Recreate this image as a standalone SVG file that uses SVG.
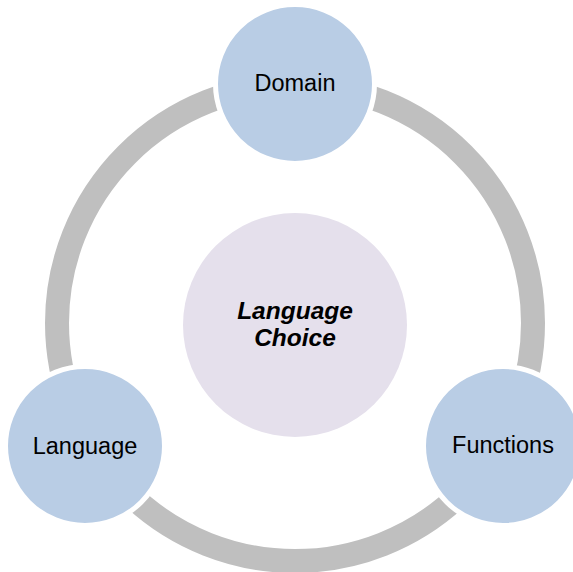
<svg xmlns="http://www.w3.org/2000/svg" width="573" height="572" viewBox="0 0 573 572">
<style>
.ring{fill:none;stroke:#bfbfbf;stroke-width:24}
.node{fill:#b9cde5;stroke:#ffffff;stroke-width:5}
.hub{fill:#e5e0ec}
.lbl{font-family:"Liberation Sans",Arial,sans-serif;font-size:23.5px;fill:#000;text-anchor:middle}
.hubl{font-family:"Liberation Sans",Arial,sans-serif;font-size:24.5px;font-weight:bold;font-style:italic;fill:#000;text-anchor:middle}
</style>
<rect width="573" height="572" fill="#ffffff"/>
<g id="connectors">
<circle class="ring" cx="295" cy="323" r="238"/>
</g>
<g id="hub">
<circle class="hub" cx="295" cy="325" r="112"/>
<text class="hubl" x="295" y="319">Language</text>
<text class="hubl" x="295" y="346">Choice</text>
</g>
<g id="domain">
<circle class="node" cx="295" cy="84" r="79.5"/>
<text class="lbl" x="295" y="91">Domain</text>
</g>
<g id="language">
<circle class="node" cx="85" cy="446" r="79.5"/>
<text class="lbl" x="85" y="454">Language</text>
</g>
<g id="functions">
<circle class="node" cx="503" cy="446" r="79.5"/>
<text class="lbl" x="503" y="453">Functions</text>
</g>
</svg>
